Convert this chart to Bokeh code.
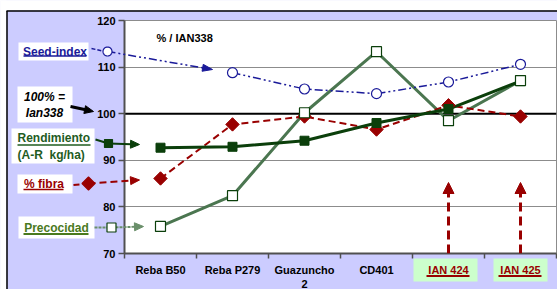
import math
from bokeh.plotting import figure
from bokeh.models import FixedTicker, Span, Label, Arrow, NormalHead
from bokeh.core.properties import value
from bokeh.embed import file_html
from bokeh.resources import INLINE

# ---------------- data ----------------
categories = ["Reba B50", "Reba P279", "Guazuncho\n2", "CD401", "IAN 424", "IAN 425"]
highlighted = ["IAN 424", "IAN 425"]
rendimiento = [92.7, 92.9, 94.2, 98.0, 101.0, 107.0]
precocidad = [75.8, 82.4, 100.2, 113.3, 98.5, 107.1]
fibra = [86.1, 97.7, 99.4, 96.6, 101.8, 99.4]
seed_index = [float("nan"), 108.8, 105.3, 104.3, 106.8, 110.6]
y_ticks = [70, 80, 90, 100, 110, 120]
reference = 100
subtitle = "% / IAN338"

# ---------------- layout helpers (pixel positions of annotations) ----------------
FL, FT, FW, FH = 124, 20, 432, 233
X0, X1 = 0.5, len(categories) + 0.5
Y0, Y1 = y_ticks[0], y_ticks[-1]


def X(px):
    return X0 + (px - FL) / FW * (X1 - X0)


def Y(py):
    return Y1 - (py - FT) / FH * (Y1 - Y0)


FONT = "Liberation Sans"
NAVY = "#1a1a99"
DKGREEN = "#0b3f0b"
PREC = "#4b7650"
PREC_TXT = "#4a7a1e"
REND_TXT = "#1f5c1f"
RED = "#990000"
GRID = "#8c8c8c"
AXIS = "#505050"
CONN = "#6a8f6a"

xs = list(range(1, len(categories) + 1))

p = figure(frame_width=FW, frame_height=FH, x_range=(X0, X1), y_range=(Y0, Y1),
           min_border_left=FL, min_border_right=1, min_border_top=FT, min_border_bottom=36,
           output_backend="svg", toolbar_location=None,
           border_fill_color="#CCCCFF", background_fill_color="white",
           outline_line_color=GRID, outline_line_width=1)

# y axis
p.yaxis.ticker = FixedTicker(ticks=y_ticks)
p.yaxis.major_label_text_font = FONT
p.yaxis.major_label_text_font_style = "bold"
p.yaxis.major_label_text_font_size = "11px"
p.yaxis.major_label_text_color = "black"
p.yaxis.axis_line_color = AXIS
p.yaxis.axis_line_width = 2
p.yaxis.major_tick_line_color = AXIS
p.yaxis.major_tick_line_width = 1.5
p.yaxis.major_tick_out = 6
p.yaxis.major_tick_in = 0
p.yaxis.minor_tick_line_color = None
p.yaxis.major_label_standoff = 3

# x axis
p.xaxis.ticker = FixedTicker(ticks=xs, minor_ticks=[x - 0.5 for x in xs] + [xs[-1] + 0.5])
p.xaxis.major_label_overrides = {x: ("" if c in highlighted else c) for x, c in zip(xs, categories)}
p.xaxis.major_label_text_font = FONT
p.xaxis.major_label_text_font_style = "bold"
p.xaxis.major_label_text_font_size = "11px"
p.xaxis.major_label_text_color = "black"
p.xaxis.axis_line_color = AXIS
p.xaxis.axis_line_width = 2
p.xaxis.major_tick_line_color = None
p.xaxis.minor_tick_line_color = AXIS
p.xaxis.minor_tick_line_width = 1.5
p.xaxis.minor_tick_out = 5
p.xaxis.minor_tick_in = 0
p.xaxis.major_label_standoff = 4

p.xgrid.visible = False
p.ygrid.ticker = FixedTicker(ticks=[t for t in y_ticks if t not in (Y0, Y1, reference)])
p.ygrid.grid_line_color = GRID
p.ygrid.grid_line_width = 1

ref = Span(location=reference, dimension="width", line_color="black", line_width=2, level="underlay")
p.add_layout(ref)

# ---------------- data series ----------------
p.line(xs, precocidad, line_color=PREC, line_width=3)
p.line(xs, seed_index, line_color=NAVY, line_width=1.5, line_dash="8 3 2 3 2 3")
p.line(xs, fibra, line_color=RED, line_width=2, line_dash="7 4")
p.line(xs, rendimiento, line_color=DKGREEN, line_width=3)

p.scatter(xs, seed_index, marker="circle", size=10, fill_color="white", line_color=NAVY, line_width=1.2)
p.scatter(xs, fibra, marker="square", angle=math.pi / 4, size=9.5, fill_color=RED, line_color=RED)
p.scatter(xs, rendimiento, marker="square", size=9, fill_color=DKGREEN, line_color=DKGREEN)
p.scatter(xs, precocidad, marker="square", size=10, fill_color="white", line_color=DKGREEN, line_width=1.2)

# red dashed arrows pointing to the new varieties
for c in highlighted:
    xi = xs[categories.index(c)]
    p.add_layout(Arrow(x_start=xi, y_start=Y0, x_end=xi, y_end=Y(182),
                       line_color=RED, line_width=3, line_dash="9 5",
                       end=NormalHead(size=11, fill_color=RED, line_color=RED, line_width=1)))

p.add_layout(Label(x=X(156), y=Y(37), text=subtitle, text_align="left", text_baseline="middle",
                   text_font=FONT, text_font_style="bold", text_font_size="11px", text_color="black"))


# ---------------- things drawn outside the frame (unclipped overlay glyphs) ----------------
def box(x1, x2, y1, y2, color):
    p.quad(left=[X(x1)], right=[X(x2)], top=[Y(y1)], bottom=[Y(y2)],
           fill_color=color, line_color=None, level="overlay")


def txt(px, py, text, color, align="center", style="bold", size="12px"):
    p.text(x=[X(px)], y=[Y(py)], text=[text], text_align=align, text_baseline="middle",
           text_font=value(FONT), text_font_style=style, text_font_size=size,
           text_color=color, text_line_height=1.15, level="overlay")


def uline(x1, x2, py, color, w=1.5):
    p.line([X(x1), X(x2)], [Y(py), Y(py)], line_color=color, line_width=w, level="overlay")


def seg(x1, y1, x2, y2, color, w, dash="solid"):
    p.line([X(x1), X(x2)], [Y(y1), Y(y2)], line_color=color, line_width=w, line_dash=dash, level="overlay")


def poly(pts, fill, line, w=1.2):
    p.patch([X(a) for a, _ in pts], [Y(b) for _, b in pts], fill_color=fill, line_color=line,
            line_width=w, level="overlay")


def arrow(x1, y1, x2, y2, color, w, dash="solid", hl=9, hw=8):
    L = math.hypot(x2 - x1, y2 - y1)
    ux, uy = (x2 - x1) / L, (y2 - y1) / L
    bx, by = x2 - ux * hl, y2 - uy * hl
    seg(x1, y1, bx + ux * 1, by + uy * 1, color, w, dash)
    poly([(x2, y2), (bx - uy * hw / 2, by + ux * hw / 2), (bx + uy * hw / 2, by - ux * hw / 2)],
         color, color, 1)


def key_circle(cx, cy, r, fill, line):
    poly([(cx + r * math.cos(t * math.pi / 16), cy + r * math.sin(t * math.pi / 16)) for t in range(32)],
         fill, line)


def key_square(cx, cy, h, fill, line):
    poly([(cx - h, cy - h), (cx + h, cy - h), (cx + h, cy + h), (cx - h, cy + h)], fill, line)


def key_diamond(cx, cy, h, fill, line):
    poly([(cx, cy - h), (cx + h, cy), (cx, cy + h), (cx - h, cy)], fill, line)


# white margin outside the chart area and its black outline
box(0, 557, 0, 10, "white")
box(0, 6, 0, 289, "white")
seg(6, 10.5, 557, 10.5, "black", 1.5)
seg(6.5, 10.5, 6.5, 289, "black", 1.5)

# label boxes
box(18, 88, 42, 60, "white")
box(17, 72, 86, 122, "white")
box(11, 94, 128, 163, "white")
box(17, 72, 174, 193, "white")
box(18, 94, 216, 238, "white")
box(413, 477, 258, 281, "#CCFFCC")
box(493, 547, 258, 281, "#CCFFCC")

txt(54.5, 51, "Seed-index", NAVY)
uline(23, 86, 55.5, NAVY)
txt(44, 104.5, "100% =\nIan338", "black", style="bold italic")
txt(17, 146, "Rendimiento\n(A-R\u00a0 kg/ha)", REND_TXT, align="left")
uline(17, 90, 144.5, REND_TXT)
txt(43.5, 183, "% fibra", RED)
uline(23, 63, 189, RED)
txt(56, 227, "Precocidad", PREC_TXT)
uline(23, 88, 233.5, PREC_TXT, 2)

# highlighted category labels (green boxes)
for c in highlighted:
    xi = xs[categories.index(c)]
    cx = FL + (xi - X0) * FW / (X1 - X0)
    txt(cx, 269.5, c, RED, size="11px")
    uline(cx - 22, cx + 21, 275.5, RED, 2)

# connectors from key labels
# seed-index
seg(91, 48, 102, 50.5, NAVY, 1.5, "4 2")
arrow(107, 51, 212, 69, NAVY, 1.5, "8 3 2 3 2 3", hl=10, hw=7)
key_circle(107, 51, 4.5, "white", NAVY)
# 100% arrow
arrow(70, 106, 93, 111, "black", 3, hl=9, hw=8)
# rendimiento
seg(95, 139, 108, 143, DKGREEN, 2)
arrow(108, 143, 139, 144, DKGREEN, 2, hl=9, hw=8)
key_square(108, 143, 4, DKGREEN, DKGREEN)
# % fibra
seg(73, 184.5, 88, 183, RED, 2, "6 4")
arrow(88, 183, 139, 179.5, RED, 2, "7 4", hl=9, hw=8)
key_diamond(88, 183, 6.5, RED, RED)
# precocidad
seg(94, 227, 111, 227, CONN, 2, "3 1")
arrow(111, 227, 143, 226, CONN, 2, "3 1", hl=9, hw=8)
key_square(111, 227, 4.5, "white", DKGREEN)

open("out.html", "w").write(file_html(p, INLINE))
